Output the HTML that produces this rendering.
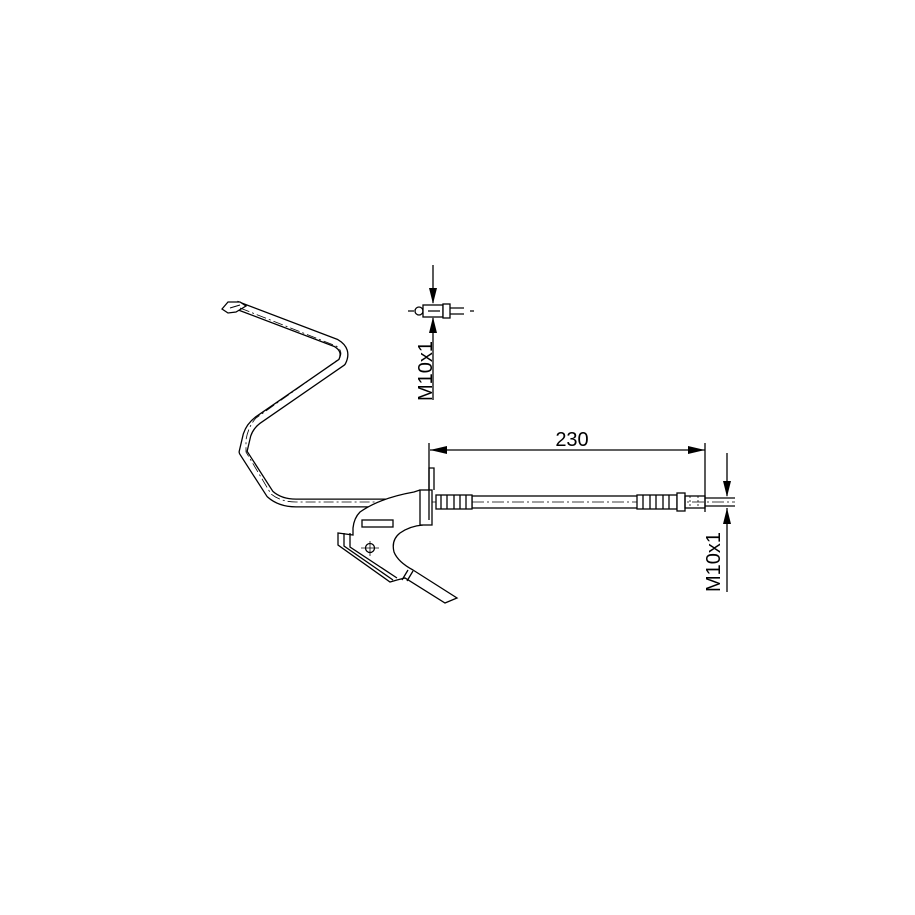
<!DOCTYPE html>
<html><head><style>html,body{margin:0;padding:0;background:#fff}svg{display:block}</style></head>
<body>
<svg width="915" height="915" viewBox="0 0 915 915" xmlns="http://www.w3.org/2000/svg" fill="none" stroke="#000" stroke-width="1.3">
<!-- brake pipe -->
<path d="M236,305 L336,343 Q348,350 342,362 L258,420 Q250,426 247,435 L243,452 L270,494 Q280,503 296,503 L420,503" stroke-width="9" stroke-linejoin="round" stroke-linecap="butt"/>
<path d="M236,305 L336,343 Q348,350 342,362 L258,420 Q250,426 247,435 L243,452 L270,494 Q280,503 296,503 L420,503" stroke="#fff" stroke-width="6.4" stroke-linejoin="round"/>
<path d="M222,309 L228,302 L240,302 L246,306 L236,312 L228,313 Z" fill="#fff"/>
<path d="M230,308 L240,305" stroke-width="1"/>
<path d="M240,308 L336,346 Q344,351 339,359 L256,418 Q248,427 246,440 L246,452 L271,494 Q281,502 296,502 L430,502" stroke-width="0.8" stroke-dasharray="10,3,2,3"/>
<!-- bracket -->
<path d="M420,490 L414,492 Q380,498 360,512 Q354,518 353,528 L353,535 L338,533 L338,545 L390,582 L397,580 L405,578 L445,603 L457,598 L413,570 Q398,562 394,552 Q391,540 400,533 Q410,526 423,525" fill="#fff"/>
<path d="M350,533 L350,547 L397,578 M344,533 L344,546 L393,580 M408,570 L402,580 M413,571 L407,581"/>
<rect x="420" y="490" width="12" height="35" fill="#fff"/>
<path d="M429,490 L429,468 L434,468 L434,490"/>
<rect x="362" y="520" width="31" height="7"/>
<circle cx="370" cy="548" r="4.5"/>
<path d="M361,548 L379,548 M370,541 L370,556" stroke-width="0.8"/>
<!-- hose -->
<rect x="472" y="496" width="166" height="12" fill="#fff"/>
<path d="M432,502 L735,502" stroke-width="0.8" stroke-dasharray="12,3,2,3"/>
<rect x="436" y="495" width="36" height="14" fill="#fff"/>
<path d="M441,495 V509 M447,495 V509 M454,495 V509 M460,495 V509 M466,495 V509"/>
<rect x="637" y="495" width="40" height="14" fill="#fff"/>
<path d="M643,495 V509 M650,495 V509 M656,495 V509 M663,495 V509 M669,495 V509"/>
<rect x="677" y="493" width="8" height="18" fill="#fff"/>
<rect x="685" y="496" width="20" height="12"/>
<path d="M690,496 V508 M698,496 V508" stroke-width="0.8" stroke-dasharray="2,2"/>
<path d="M705,498 H735 M705,506 H735"/>
<!-- dimension 230 -->
<path d="M429,443 V520 M705,443 V512 M430,450 H705"/>
<path d="M430,450 L447,446 L447,454 Z M705,450 L688,446 L688,454 Z" fill="#000" stroke="none"/>
<text x="572" y="446" font-family="Liberation Sans, sans-serif" font-size="20" fill="#000" stroke="none" text-anchor="middle">230</text>
<!-- right M10x1 -->
<path d="M727,453 V496 M727,508 V592"/>
<path d="M727,497 L723,481 L731,481 Z M727,508 L723,524 L731,524 Z" fill="#000" stroke="none"/>
<text transform="translate(720,592) rotate(-90)" font-family="Liberation Sans, sans-serif" font-size="20" fill="#000" stroke="none">M10x1</text>
<!-- top small fitting -->
<path d="M433,265 V303 M433,318 V400"/>
<path d="M433,304 L429,288 L437,288 Z M433,317 L429,333 L437,333 Z" fill="#000" stroke="none"/>
<text transform="translate(432,401) rotate(-90)" font-family="Liberation Sans, sans-serif" font-size="20" fill="#000" stroke="none">M10x1</text>
<circle cx="419" cy="311" r="4"/>
<rect x="423" y="305" width="20" height="12" fill="#fff"/>
<rect x="443" y="304" width="7" height="14" fill="#fff"/>
<path d="M450,308 H464 M450,314 H464 M408,311 H414 M428,311 H440 M470,311 H474"/>
</svg>
</body></html>
